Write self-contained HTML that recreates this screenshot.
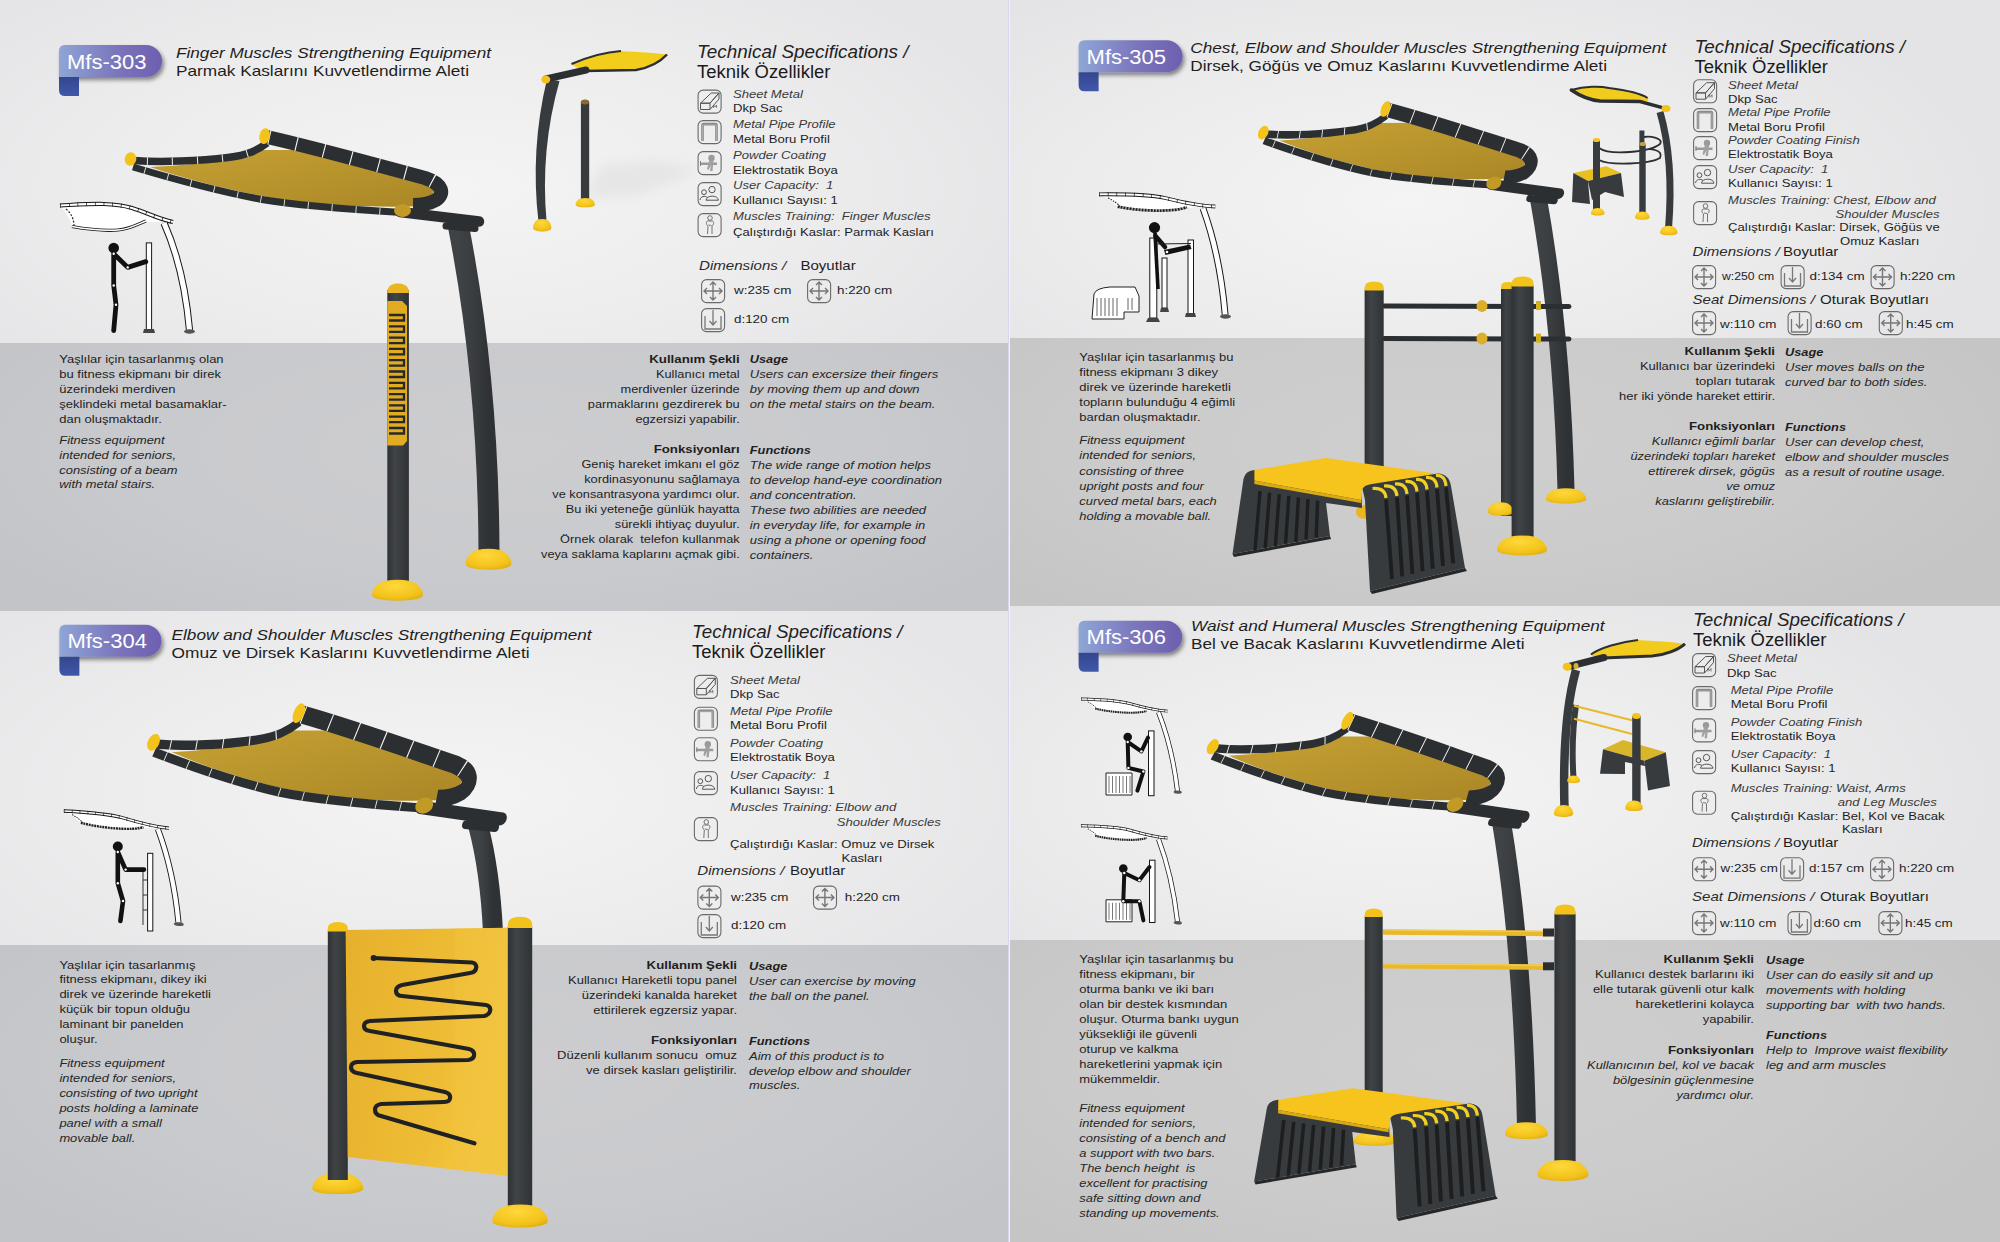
<!DOCTYPE html><html><head><meta charset="utf-8"><style>
html,body{margin:0;padding:0;width:2000px;height:1242px;overflow:hidden;background:#e9e9eb;}
.q{position:absolute;}
svg{position:absolute;left:0;top:0;font-family:"Liberation Sans",sans-serif;}
</style></head><body>

<div class="q" style="left:0;top:0;width:1008px;height:343px;background:radial-gradient(ellipse 60% 75% at 45% 55%,#f4f4f4 0%,#ededee 55%,#e5e5e7 100%);"></div>
<div class="q" style="left:0;top:343px;width:1008px;height:268px;background:radial-gradient(ellipse 60% 80% at 50% 40%,#cdcdd0 0%,#c9cacd 60%,#c3c4c7 100%);"></div>
<div class="q" style="left:1010px;top:0;width:990px;height:338px;background:radial-gradient(ellipse 60% 75% at 40% 60%,#f4f4f4 0%,#ececed 55%,#e4e4e6 100%);"></div>
<div class="q" style="left:1010px;top:338px;width:990px;height:268px;background:radial-gradient(ellipse 60% 80% at 45% 40%,#cfcfcf 0%,#cbcbcb 60%,#c5c5c5 100%);"></div>
<div class="q" style="left:0;top:611px;width:1008px;height:334px;background:radial-gradient(ellipse 60% 75% at 45% 55%,#f4f4f4 0%,#ededee 55%,#e6e6e8 100%);"></div>
<div class="q" style="left:0;top:945px;width:1008px;height:297px;background:radial-gradient(ellipse 60% 80% at 50% 40%,#cdcdd0 0%,#c9cacd 60%,#c3c4c7 100%);"></div>
<div class="q" style="left:1010px;top:606px;width:990px;height:334px;background:radial-gradient(ellipse 60% 75% at 40% 55%,#f4f4f4 0%,#ececed 55%,#e4e4e6 100%);"></div>
<div class="q" style="left:1010px;top:940px;width:990px;height:302px;background:radial-gradient(ellipse 60% 80% at 45% 40%,#cfcfcf 0%,#cbcbcb 60%,#c5c5c5 100%);"></div>
<div class="q" style="left:1008px;top:0;width:1px;height:1242px;background:#d6d6ec;"></div>
<div class="q" style="left:1009px;top:0;width:1px;height:1242px;background:#f2f2f2;"></div>
<svg width="2000" height="1242" viewBox="0 0 2000 1242">

<defs>
<linearGradient id="badgeG" x1="0" y1="0" x2="1" y2="0">
 <stop offset="0" stop-color="#8ea6d6"/><stop offset="0.55" stop-color="#7b76bc"/><stop offset="1" stop-color="#6e5fb0"/>
</linearGradient>
<linearGradient id="tabG" x1="0" y1="0" x2="0" y2="1">
 <stop offset="0" stop-color="#34468e"/><stop offset="1" stop-color="#4058aa"/>
</linearGradient>
<filter id="bsh" x="-20%" y="-30%" width="150%" height="180%">
 <feGaussianBlur in="SourceAlpha" stdDeviation="2.2"/><feOffset dx="2" dy="3"/>
 <feComponentTransfer><feFuncA type="linear" slope="0.45"/></feComponentTransfer>
 <feMerge><feMergeNode/><feMergeNode in="SourceGraphic"/></feMerge>
</filter>
<g id="icoFrame"><rect x="0.6" y="0.6" width="23" height="23" rx="5" fill="#efefef" fill-opacity="0.25" stroke="#6a6a6a" stroke-width="1.1"/></g>
<g id="icoSheet"><use href="#icoFrame"/><path d="M3,13.7 L13.7,3.5 L21.5,3.5 L12.5,13.7 Z M3,13.7 L12.5,13.7 L12.5,20 L3,20 Z M12.5,13.7 L21.5,3.5 L21.5,9.5 L12.5,20" fill="none" stroke="#555" stroke-width="1"/><path d="M16,18.5 L16,15.5 L17.5,17.5 L19,15.5 L19,18.5" fill="none" stroke="#555" stroke-width="0.7"/></g>
<g id="icoPipe"><use href="#icoFrame"/><path d="M5,21 L5,5 Q5,4 6,4 L18,4 Q19,4 19,5 L19,21" fill="none" stroke="#8a8a8a" stroke-width="2.6"/><path d="M5,21 L5,5 L19,5 L19,21" fill="none" stroke="#aaa" stroke-width="1"/></g>
<g id="icoPowder"><use href="#icoFrame"/><path d="M2.5,11.5 L19.5,11.5 L19.5,14 L2.5,14 Z" fill="#9a9a9a"/><circle cx="14" cy="7" r="3.2" fill="#9a9a9a"/><path d="M12,9 L16,9 L15,20 L12.5,20 L13.5,14 L11,19 L9.5,18 Z" fill="#a0a0a0"/><path d="M3,10 L3,15" stroke="#777" stroke-width="0.9"/></g>
<g id="icoUser"><use href="#icoFrame"/><circle cx="6.5" cy="10.2" r="2.4" fill="none" stroke="#555" stroke-width="1"/><circle cx="14.5" cy="7.6" r="3.2" fill="none" stroke="#555" stroke-width="1"/><path d="M2.5,18 C3,14.2 7.5,13.5 10,15.5 M8.5,18.2 C9,12.8 20.5,12.8 21,18.2 Z" fill="none" stroke="#555" stroke-width="1"/></g>
<g id="icoMuscle"><use href="#icoFrame"/><circle cx="12.5" cy="5" r="2.3" fill="none" stroke="#666" stroke-width="0.9"/><path d="M10,8 C8,9 9,12 10.5,13 L10,21 M15,8 C17,9 16,12 14.5,13 L14.5,21 M10,8 L15,8 M11,12 L14,12.5" fill="none" stroke="#666" stroke-width="0.9"/></g>
<g id="icoDimW"><use href="#icoFrame"/><path d="M3,12 L21,12 M12,3 L12,21 M6,9 L3,12 L6,15 M18,9 L21,12 L18,15 M9,6 L12,3 L15,6 M9,18 L12,21 L15,18" fill="none" stroke="#777" stroke-width="1.4"/></g>
<g id="icoDimD"><use href="#icoFrame"/><path d="M4,8 L4,21 L20,21 L20,8 M12,2 L12,17 M8.5,13 L12,17 L15.5,13" fill="none" stroke="#777" stroke-width="1.3"/></g>

<linearGradient id="fabG" x1="0" y1="0" x2="1" y2="1">
 <stop offset="0" stop-color="#c4a032"/><stop offset="0.6" stop-color="#b6922c"/><stop offset="1" stop-color="#aa8726"/>
</linearGradient>
<linearGradient id="poleG" x1="0" y1="0" x2="1" y2="0">
 <stop offset="0" stop-color="#3f4345"/><stop offset="0.5" stop-color="#3a3d3f"/><stop offset="1" stop-color="#2f3234"/>
</linearGradient>
<linearGradient id="postG" x1="0" y1="0" x2="1" y2="0">
 <stop offset="0" stop-color="#2f3234"/><stop offset="0.35" stop-color="#404446"/><stop offset="1" stop-color="#303335"/>
</linearGradient>
<linearGradient id="panelG" x1="0" y1="0" x2="1" y2="0.3">
 <stop offset="0" stop-color="#e6b02c"/><stop offset="0.7" stop-color="#efbd35"/><stop offset="1" stop-color="#f3c63f"/>
</linearGradient>
<radialGradient id="baseG" cx="0.45" cy="0.3" r="0.8">
 <stop offset="0" stop-color="#ffd83a"/><stop offset="0.7" stop-color="#f2c21a"/><stop offset="1" stop-color="#dba90f"/>
</radialGradient>
<filter id="blur4" x="-50%" y="-50%" width="200%" height="200%"><feGaussianBlur stdDeviation="6"/></filter>
<g id="canopy">
 <path d="M150,167 C190,165 232,161 262,150 L300,150 C350,161 400,175 436,187 L427,206 C380,208 330,205.5 300,202 C260,197 200,184 150,167 Z" fill="url(#fabG)"/>
 <path d="M133,167 C170,178 220,192 262,199.5 C300,206 360,210 402,212.5" fill="none" stroke="#2c2f31" stroke-width="7"/>
 <path d="M133,167 C170,178 220,192 262,199.5 C300,206 360,210 402,212.5" fill="none" stroke="#e8e8d8" stroke-width="7" stroke-dasharray="0.9 23" stroke-dashoffset="-12"/>
 <path d="M134,160.5 C160,162.5 200,161 228,157.5 C248,155 258,150 267,143" fill="none" stroke="#2c2f31" stroke-width="7.5"/>
 <path d="M134,160.5 C160,162.5 200,161 228,157.5 C248,155 258,150 267,143" fill="none" stroke="#f0f0f0" stroke-width="7.5" stroke-dasharray="1 24" stroke-dashoffset="-38"/>
 <path d="M267,137 C320,149 380,166 425,178 C443,184 445,194 436,200 C429,204 421,205 413,205" fill="none" stroke="#2c2f31" stroke-width="14"/>
 <path d="M267,137 C320,149 380,166 425,178 C443,184 445,194 436,200" fill="none" stroke="#f4f4f4" stroke-width="14" stroke-dasharray="1.1 27" stroke-dashoffset="-30"/>
 <path d="M400,212 L479,221.5" fill="none" stroke="#2c2f31" stroke-width="10.5" stroke-linecap="round"/>
 <path d="M446,226 L475,228.5" fill="none" stroke="#2c2f31" stroke-width="7" stroke-linecap="round"/>
 <ellipse cx="402.5" cy="210.5" rx="8.5" ry="6.5" fill="#c39a26"/>
 <ellipse cx="130.5" cy="159" rx="5.8" ry="6.8" fill="#f3c31c" transform="rotate(15 130.5 159)"/>
 <ellipse cx="264.4" cy="136" rx="5.2" ry="8" fill="#f3c31c" transform="rotate(12 264 137)"/>
</g>
<g id="bench">
<path d="M1254,470 L1361,489 L1362,508 L1326,503 L1330,536 L1232.5,554 L1243.5,479 Q1245,471 1254,470 Z" fill="#383b3d"/>
<path d="M1260.0,491.0 L1255.0,550.0" stroke="#1c1e1f" stroke-width="3.4"/>
<path d="M1269.6,492.6 L1265.2,547.9" stroke="#1c1e1f" stroke-width="3.4"/>
<path d="M1279.2,494.2 L1275.4,545.8" stroke="#1c1e1f" stroke-width="3.4"/>
<path d="M1288.8,495.8 L1285.6,543.7" stroke="#1c1e1f" stroke-width="3.4"/>
<path d="M1298.4,497.4 L1295.8,541.6" stroke="#1c1e1f" stroke-width="3.4"/>
<path d="M1308.0,499.0 L1306.0,539.5" stroke="#1c1e1f" stroke-width="3.4"/>
<path d="M1317.6,500.6 L1316.2,537.4" stroke="#1c1e1f" stroke-width="3.4"/>
<path d="M1232.5,554 L1330,536 L1331,539 L1234,557 Z" fill="#252728"/>
<path d="M1254.4,470 L1326,458 L1437.5,473.75 L1362.5,488.75 L1361,500 L1254.4,480.6 Z" fill="#f6c41d"/>
<path d="M1254.4,480.6 L1361,500 L1361,503 L1254.4,484 Z" fill="#d9a916"/>
<path d="M1362.5,489 Q1364,485 1372,484 L1438,473.5 Q1449,474 1451,486 L1465,568 L1370,591 L1365,500 Z" fill="#383b3d"/>
<path d="M1386.0,499.5 L1392.0,579.0" stroke="#1c1e1f" stroke-width="3.8"/>
<path d="M1372.5,488.5 Q1385.0,487.5 1386.0,498.0" fill="none" stroke="#f0d024" stroke-width="3.2"/>
<path d="M1397.0,497.5 L1402.2,576.4" stroke="#1c1e1f" stroke-width="3.8"/>
<path d="M1384.0,486.0 Q1396.0,485.0 1397.0,496.0" fill="none" stroke="#f0d024" stroke-width="3.2"/>
<path d="M1407.0,495.5 L1412.4,573.8" stroke="#1c1e1f" stroke-width="3.8"/>
<path d="M1395.0,484.0 Q1406.0,483.0 1407.0,494.0" fill="none" stroke="#f0d024" stroke-width="3.2"/>
<path d="M1417.0,493.0 L1422.6,571.2" stroke="#1c1e1f" stroke-width="3.8"/>
<path d="M1405.5,481.5 Q1416.0,480.5 1417.0,491.5" fill="none" stroke="#f0d024" stroke-width="3.2"/>
<path d="M1427.0,491.0 L1432.8,568.6" stroke="#1c1e1f" stroke-width="3.8"/>
<path d="M1416.0,479.5 Q1426.0,478.5 1427.0,489.5" fill="none" stroke="#f0d024" stroke-width="3.2"/>
<path d="M1437.0,489.0 L1443.0,566.0" stroke="#1c1e1f" stroke-width="3.8"/>
<path d="M1426.0,477.5 Q1436.0,476.5 1437.0,487.5" fill="none" stroke="#f0d024" stroke-width="3.2"/>
<path d="M1446.0,487.5 L1453.2,563.4" stroke="#1c1e1f" stroke-width="3.8"/>
<path d="M1436.0,475.5 Q1445.0,474.5 1446.0,486.0" fill="none" stroke="#f0d024" stroke-width="3.2"/>
<path d="M1370,591 L1465,568 L1467,571 L1372,594 Z" fill="#252728"/>
</g>

<g id="lineCan">
 <path d="M61,207 C90,205 112,202 132,208 C148,213 158,219 172,222 L146,222 C132,227 118,231 100,229.5 C86,228.5 76,227.5 72,226 C70,219 66,212 61,207 Z" fill="#ffffff"/>
 <path d="M60,205.5 C90,204 112,202 132,208 C148,213 158,219 173,222" fill="none" stroke="#161616" stroke-width="4.2"/>
 <path d="M60,205.5 C90,204 112,202 132,208 C148,213 158,219 173,222" fill="none" stroke="#ffffff" stroke-width="2.2"/>
 <path d="M60,205.5 C90,204 112,202 132,208 C148,213 158,219 173,222" fill="none" stroke="#161616" stroke-width="4" stroke-dasharray="0.7 8"/>
 <path d="M72,226.5 C86,229 104,231 118,230 C130,229 138,224 146,221" fill="none" stroke="#161616" stroke-width="3.2"/>
 <path d="M72,226.5 C86,229 104,231 118,230 C130,229 138,224 146,221" fill="none" stroke="#ffffff" stroke-width="1.4"/>
 <path d="M66,209 C72,214 74,220 74,226" fill="none" stroke="#333" stroke-width="1.3" stroke-dasharray="2 1.5"/>
 <path d="M164,223 Q184,268 189.5,330" fill="none" stroke="#161616" stroke-width="7.2"/>
 <path d="M164,223 Q184,268 189.5,330" fill="none" stroke="#ffffff" stroke-width="5.2"/>
 <ellipse cx="189.5" cy="331.5" rx="5.5" ry="2.2" fill="#555"/>
</g>

<g id="lineCan2">
 <path d="M1100,195 C1130,194.5 1150,195 1165,198 C1185,202 1200,206 1215,206.5 L1186,207.5 C1170,211.5 1150,211.5 1130,209.5 C1122,208.5 1118,207.5 1117,206.5 C1112,201 1106,197 1100,195 Z" fill="#ffffff"/>
 <path d="M1099,194.3 C1125,194 1150,194.5 1165,198 C1185,203 1200,206 1215.3,206.5" fill="none" stroke="#161616" stroke-width="3.8"/>
 <path d="M1099,194.3 C1125,194 1150,194.5 1165,198 C1185,203 1200,206 1215.3,206.5" fill="none" stroke="#ffffff" stroke-width="1.9"/>
 <path d="M1099,194.3 C1125,194 1150,194.5 1165,198 C1185,203 1200,206 1215.3,206.5" fill="none" stroke="#161616" stroke-width="3.8" stroke-dasharray="0.7 8"/>
 <path d="M1117.7,206.6 C1135,210.5 1160,211.5 1175,209.8 C1180,209.2 1184,208.3 1187,207.2" fill="none" stroke="#222" stroke-width="2.8" stroke-dasharray="2.2 0.8"/>
 <path d="M1108,197.8 C1114,201 1118,204 1120,206.6" fill="none" stroke="#333" stroke-width="1.3" stroke-dasharray="1.5 1.2"/>
 <path d="M1203,208.4 Q1220,255 1225.2,315" fill="none" stroke="#161616" stroke-width="6.8"/>
 <path d="M1203,208.4 Q1220,255 1225.2,315" fill="none" stroke="#ffffff" stroke-width="4.8"/>
 <ellipse cx="1225.5" cy="316.5" rx="5.5" ry="2.2" fill="#555"/>
</g>
</defs>
<g filter="url(#bsh)"><path d="M59,77 L59,51 Q59,45 65,45 L146.0,45 A16.0,16.0 0 0 1 146.0,77 Z" fill="url(#badgeG)"/></g><path d="M59,77 L79,77 L79,96 L65,96 Q59,96 59,90 Z" fill="url(#tabG)"/><text x="67.0" y="68.5" font-size="20.5" fill="#ffffff" textLength="79.5" lengthAdjust="spacingAndGlyphs">Mfs-303</text>
<text x="176.0" y="57.5" font-size="15.5" font-style="italic" fill="#1e1e1e" textLength="315.0" lengthAdjust="spacingAndGlyphs">Finger Muscles Strengthening Equipment</text>
<text x="176.0" y="75.8" font-size="15" fill="#1e1e1e" textLength="293.0" lengthAdjust="spacingAndGlyphs">Parmak Kaslarını Kuvvetlendirme Aleti</text>
<text x="697.0" y="57.7" font-size="17.6" font-style="italic" fill="#222" textLength="211.5" lengthAdjust="spacingAndGlyphs">Technical Specifications /</text>
<text x="697.0" y="77.7" font-size="17.6" fill="#1a1a1a" textLength="133.5" lengthAdjust="spacingAndGlyphs">Teknik Özellikler</text>
<use href="#icoSheet" x="697.5" y="89.5"/>
<text x="733.0" y="98.2" font-size="11.0" font-style="italic" fill="#3a3a3a" textLength="69.9" lengthAdjust="spacingAndGlyphs">Sheet Metal</text>
<text x="733.0" y="112.4" font-size="11.0" fill="#1e1e1e" textLength="49.5" lengthAdjust="spacingAndGlyphs">Dkp Sac</text>
<use href="#icoPipe" x="697.5" y="120"/>
<text x="733.0" y="128.3" font-size="11.0" font-style="italic" fill="#3a3a3a" textLength="102.6" lengthAdjust="spacingAndGlyphs">Metal Pipe Profile</text>
<text x="733.0" y="142.5" font-size="11.0" fill="#1e1e1e" textLength="96.8" lengthAdjust="spacingAndGlyphs">Metal Boru Profil</text>
<use href="#icoPowder" x="697.5" y="151"/>
<text x="733.0" y="159.0" font-size="11.0" font-style="italic" fill="#3a3a3a" textLength="93.1" lengthAdjust="spacingAndGlyphs">Powder Coating</text>
<text x="733.0" y="173.5" font-size="11.0" fill="#1e1e1e" textLength="104.8" lengthAdjust="spacingAndGlyphs">Elektrostatik Boya</text>
<use href="#icoUser" x="697.5" y="182"/>
<text x="733.0" y="189.4" font-size="11.0" font-style="italic" fill="#3a3a3a" textLength="100.4" lengthAdjust="spacingAndGlyphs" style="white-space:pre">User Capacity:  1</text>
<text x="733.0" y="203.6" font-size="11.0" fill="#1e1e1e" textLength="104.8" lengthAdjust="spacingAndGlyphs">Kullanıcı Sayısı: 1</text>
<use href="#icoMuscle" x="697.5" y="213"/>
<text x="733.0" y="220.4" font-size="11.0" font-style="italic" fill="#3a3a3a" textLength="197.6" lengthAdjust="spacingAndGlyphs" style="white-space:pre">Muscles Training:  Finger Muscles</text>
<text x="733.0" y="235.5" font-size="11.0" fill="#1e1e1e" textLength="200.8" lengthAdjust="spacingAndGlyphs">Çalıştırdığı Kaslar: Parmak Kasları</text>
<text x="699.0" y="269.7" font-size="13" font-style="italic" fill="#2a2a2a" textLength="87.2" lengthAdjust="spacingAndGlyphs">Dimensions /</text>
<text x="800.4" y="269.7" font-size="13" fill="#1e1e1e" textLength="55.3" lengthAdjust="spacingAndGlyphs">Boyutlar</text>
<use href="#icoDimW" x="701" y="279"/><text x="734.0" y="294.0" font-size="11.5" fill="#1e1e1e" textLength="57.3" lengthAdjust="spacingAndGlyphs">w:235 cm</text>
<use href="#icoDimW" x="807" y="279"/><text x="837.0" y="294.0" font-size="11.5" fill="#1e1e1e" textLength="55.1" lengthAdjust="spacingAndGlyphs">h:220 cm</text>
<use href="#icoDimD" x="701" y="308"/><text x="734.0" y="322.6" font-size="11.5" fill="#1e1e1e" textLength="55.1" lengthAdjust="spacingAndGlyphs">d:120 cm</text>
<text x="59.3" y="363.0" font-size="11.7" fill="#1e1e1e" textLength="164.3" lengthAdjust="spacingAndGlyphs">Yaşlılar için tasarlanmış olan</text>
<text x="59.3" y="377.9" font-size="11.7" fill="#1e1e1e" textLength="161.7" lengthAdjust="spacingAndGlyphs">bu fitness ekipmanı bir direk</text>
<text x="59.3" y="392.8" font-size="11.7" fill="#1e1e1e" textLength="116.2" lengthAdjust="spacingAndGlyphs">üzerindeki merdiven</text>
<text x="59.3" y="407.7" font-size="11.7" fill="#1e1e1e" textLength="167.4" lengthAdjust="spacingAndGlyphs">şeklindeki metal basamaklar-</text>
<text x="59.3" y="422.6" font-size="11.7" fill="#1e1e1e" textLength="102.5" lengthAdjust="spacingAndGlyphs">dan oluşmaktadır.</text>
<text x="59.3" y="443.7" font-size="11.7" font-style="italic" fill="#262626" textLength="105.3" lengthAdjust="spacingAndGlyphs">Fitness equipment</text>
<text x="59.3" y="458.6" font-size="11.7" font-style="italic" fill="#262626" textLength="116.7" lengthAdjust="spacingAndGlyphs">intended for seniors,</text>
<text x="59.3" y="473.5" font-size="11.7" font-style="italic" fill="#262626" textLength="118.2" lengthAdjust="spacingAndGlyphs">consisting of a beam</text>
<text x="59.3" y="488.4" font-size="11.7" font-style="italic" fill="#262626" textLength="95.9" lengthAdjust="spacingAndGlyphs">with metal stairs.</text>
<text x="739.7" y="362.6" font-size="11.7" font-weight="bold" text-anchor="end" fill="#1e1e1e" textLength="90.4" lengthAdjust="spacingAndGlyphs">Kullanım Şekli</text>
<text x="739.7" y="377.6" font-size="11.7" text-anchor="end" fill="#1e1e1e" textLength="83.7" lengthAdjust="spacingAndGlyphs">Kullanıcı metal</text>
<text x="739.7" y="392.7" font-size="11.7" text-anchor="end" fill="#1e1e1e" textLength="119.2" lengthAdjust="spacingAndGlyphs">merdivenler üzerinde</text>
<text x="739.7" y="407.7" font-size="11.7" text-anchor="end" fill="#1e1e1e" textLength="151.9" lengthAdjust="spacingAndGlyphs">parmaklarını gezdirerek bu</text>
<text x="739.7" y="422.8" font-size="11.7" text-anchor="end" fill="#1e1e1e" textLength="104.3" lengthAdjust="spacingAndGlyphs">egzersizi yapabilir.</text>
<text x="739.7" y="452.9" font-size="11.7" font-weight="bold" text-anchor="end" fill="#1e1e1e" textLength="86.0" lengthAdjust="spacingAndGlyphs">Fonksiyonları</text>
<text x="739.7" y="468.0" font-size="11.7" text-anchor="end" fill="#1e1e1e" textLength="158.3" lengthAdjust="spacingAndGlyphs">Geniş hareket imkanı el göz</text>
<text x="739.7" y="483.1" font-size="11.7" text-anchor="end" fill="#1e1e1e" textLength="155.5" lengthAdjust="spacingAndGlyphs">kordinasyonunu sağlamaya</text>
<text x="739.7" y="498.1" font-size="11.7" text-anchor="end" fill="#1e1e1e" textLength="187.4" lengthAdjust="spacingAndGlyphs">ve konsantrasyona yardımcı olur.</text>
<text x="739.7" y="513.2" font-size="11.7" text-anchor="end" fill="#1e1e1e" textLength="173.9" lengthAdjust="spacingAndGlyphs">Bu iki yeteneğe günlük hayatta</text>
<text x="739.7" y="528.3" font-size="11.7" text-anchor="end" fill="#1e1e1e" textLength="124.9" lengthAdjust="spacingAndGlyphs">sürekli ihtiyaç duyulur.</text>
<text x="739.7" y="543.4" font-size="11.7" text-anchor="end" fill="#1e1e1e" textLength="179.6" lengthAdjust="spacingAndGlyphs" style="white-space:pre">Örnek olarak  telefon kullanmak</text>
<text x="739.7" y="558.4" font-size="11.7" text-anchor="end" fill="#1e1e1e" textLength="198.7" lengthAdjust="spacingAndGlyphs">veya saklama kaplarını açmak gibi.</text>
<text x="749.8" y="363.0" font-size="11.7" font-style="italic" font-weight="bold" fill="#1e1e1e" textLength="38.3" lengthAdjust="spacingAndGlyphs">Usage</text>
<text x="749.8" y="378.0" font-size="11.7" font-style="italic" fill="#262626" textLength="188.5" lengthAdjust="spacingAndGlyphs">Users can excersize their fingers</text>
<text x="749.8" y="393.1" font-size="11.7" font-style="italic" fill="#262626" textLength="169.8" lengthAdjust="spacingAndGlyphs">by moving them up and down</text>
<text x="749.8" y="408.1" font-size="11.7" font-style="italic" fill="#262626" textLength="185.6" lengthAdjust="spacingAndGlyphs">on the metal stairs on the beam.</text>
<text x="749.8" y="453.5" font-size="11.7" font-style="italic" font-weight="bold" fill="#1e1e1e" textLength="61.0" lengthAdjust="spacingAndGlyphs">Functions</text>
<text x="749.8" y="468.5" font-size="11.7" font-style="italic" fill="#262626" textLength="181.3" lengthAdjust="spacingAndGlyphs">The wide range of motion helps</text>
<text x="749.8" y="483.6" font-size="11.7" font-style="italic" fill="#262626" textLength="192.2" lengthAdjust="spacingAndGlyphs">to develop hand-eye coordination</text>
<text x="749.8" y="498.6" font-size="11.7" font-style="italic" fill="#262626" textLength="106.9" lengthAdjust="spacingAndGlyphs">and concentration.</text>
<text x="749.8" y="513.7" font-size="11.7" font-style="italic" fill="#262626" textLength="176.3" lengthAdjust="spacingAndGlyphs">These two abilities are needed</text>
<text x="749.8" y="528.8" font-size="11.7" font-style="italic" fill="#262626" textLength="175.5" lengthAdjust="spacingAndGlyphs">in everyday life, for example in</text>
<text x="749.8" y="543.9" font-size="11.7" font-style="italic" fill="#262626" textLength="175.6" lengthAdjust="spacingAndGlyphs">using a phone or opening food</text>
<text x="749.8" y="558.9" font-size="11.7" font-style="italic" fill="#262626" textLength="63.6" lengthAdjust="spacingAndGlyphs">containers.</text>
<g filter="url(#bsh)"><path d="M1078.6,72.2 L1078.6,46.2 Q1078.6,40.2 1084.6,40.2 L1166.6,40.2 A16.0,16.0 0 0 1 1166.6,72.2 Z" fill="url(#badgeG)"/></g><path d="M1078.6,72.2 L1098.6,72.2 L1098.6,91.2 L1084.6,91.2 Q1078.6,91.2 1078.6,85.2 Z" fill="url(#tabG)"/><text x="1086.6" y="63.7" font-size="20.5" fill="#ffffff" textLength="79.5" lengthAdjust="spacingAndGlyphs">Mfs-305</text>
<text x="1190.2" y="53.2" font-size="15.5" font-style="italic" fill="#1e1e1e" textLength="476.0" lengthAdjust="spacingAndGlyphs">Chest, Elbow and Shoulder Muscles Strengthening Equipment</text>
<text x="1190.2" y="71.0" font-size="15" fill="#1e1e1e" textLength="416.8" lengthAdjust="spacingAndGlyphs">Dirsek, Göğüs ve Omuz Kaslarını Kuvvetlendirme Aleti</text>
<text x="1694.5" y="52.5" font-size="17.6" font-style="italic" fill="#222" textLength="210.5" lengthAdjust="spacingAndGlyphs">Technical Specifications /</text>
<text x="1694.5" y="73.0" font-size="17.6" fill="#1a1a1a" textLength="133.5" lengthAdjust="spacingAndGlyphs">Teknik Özellikler</text>
<use href="#icoSheet" x="1693" y="79.2"/>
<text x="1728.0" y="88.7" font-size="11.0" font-style="italic" fill="#3a3a3a" textLength="69.9" lengthAdjust="spacingAndGlyphs">Sheet Metal</text>
<text x="1728.0" y="102.5" font-size="11.0" fill="#1e1e1e" textLength="49.5" lengthAdjust="spacingAndGlyphs">Dkp Sac</text>
<use href="#icoPipe" x="1693" y="108"/>
<text x="1728.0" y="116.0" font-size="11.0" font-style="italic" fill="#3a3a3a" textLength="102.6" lengthAdjust="spacingAndGlyphs">Metal Pipe Profile</text>
<text x="1728.0" y="130.5" font-size="11.0" fill="#1e1e1e" textLength="96.8" lengthAdjust="spacingAndGlyphs">Metal Boru Profil</text>
<use href="#icoPowder" x="1693" y="136"/>
<text x="1728.0" y="143.7" font-size="11.0" font-style="italic" fill="#3a3a3a" textLength="131.7" lengthAdjust="spacingAndGlyphs">Powder Coating Finish</text>
<text x="1728.0" y="158.0" font-size="11.0" fill="#1e1e1e" textLength="104.8" lengthAdjust="spacingAndGlyphs">Elektrostatik Boya</text>
<use href="#icoUser" x="1693" y="165"/>
<text x="1728.0" y="173.0" font-size="11.0" font-style="italic" fill="#3a3a3a" textLength="100.4" lengthAdjust="spacingAndGlyphs" style="white-space:pre">User Capacity:  1</text>
<text x="1728.0" y="186.7" font-size="11.0" fill="#1e1e1e" textLength="104.8" lengthAdjust="spacingAndGlyphs">Kullanıcı Sayısı: 1</text>
<use href="#icoMuscle" x="1693" y="201"/>
<text x="1728.0" y="203.7" font-size="11.0" font-style="italic" fill="#3a3a3a" textLength="207.8" lengthAdjust="spacingAndGlyphs">Muscles Training: Chest, Elbow and</text>
<text x="1835.5" y="217.5" font-size="11.0" font-style="italic" fill="#3a3a3a" textLength="104.0" lengthAdjust="spacingAndGlyphs">Shoulder Muscles</text>
<text x="1728.0" y="230.5" font-size="11.0" fill="#1e1e1e" textLength="211.7" lengthAdjust="spacingAndGlyphs">Çalıştırdığı Kaslar: Dirsek, Göğüs ve</text>
<text x="1840.0" y="244.5" font-size="11.0" fill="#1e1e1e" textLength="79.3" lengthAdjust="spacingAndGlyphs">Omuz Kasları</text>
<text x="1692.5" y="255.5" font-size="13" font-style="italic" fill="#2a2a2a" textLength="87.2" lengthAdjust="spacingAndGlyphs">Dimensions /</text>
<text x="1783.0" y="255.5" font-size="13" fill="#1e1e1e" textLength="55.3" lengthAdjust="spacingAndGlyphs">Boyutlar</text>
<use href="#icoDimW" x="1692" y="265"/><text x="1722.0" y="280.0" font-size="10.5" fill="#1e1e1e" textLength="52.3" lengthAdjust="spacingAndGlyphs">w:250 cm</text>
<use href="#icoDimD" x="1780.5" y="265"/><text x="1809.5" y="280.0" font-size="11.5" fill="#1e1e1e" textLength="55.1" lengthAdjust="spacingAndGlyphs">d:134 cm</text>
<use href="#icoDimW" x="1870.5" y="265"/><text x="1900.0" y="280.0" font-size="11.5" fill="#1e1e1e" textLength="55.1" lengthAdjust="spacingAndGlyphs">h:220 cm</text>
<text x="1692.5" y="303.7" font-size="13" font-style="italic" fill="#2a2a2a" textLength="122.4" lengthAdjust="spacingAndGlyphs">Seat Dimensions /</text>
<text x="1820.0" y="303.7" font-size="13" fill="#1e1e1e" textLength="109.0" lengthAdjust="spacingAndGlyphs">Oturak Boyutları</text>
<use href="#icoDimW" x="1692" y="311"/><text x="1720.0" y="328.0" font-size="11.5" fill="#1e1e1e" textLength="56.3" lengthAdjust="spacingAndGlyphs">w:110 cm</text>
<use href="#icoDimD" x="1787.5" y="311"/><text x="1815.0" y="328.0" font-size="11.5" fill="#1e1e1e" textLength="47.7" lengthAdjust="spacingAndGlyphs">d:60 cm</text>
<use href="#icoDimW" x="1878.7" y="311"/><text x="1906.0" y="328.0" font-size="11.5" fill="#1e1e1e" textLength="47.7" lengthAdjust="spacingAndGlyphs">h:45 cm</text>
<text x="1079.3" y="361.4" font-size="11.7" fill="#1e1e1e" textLength="154.2" lengthAdjust="spacingAndGlyphs">Yaşlılar için tasarlanmış bu</text>
<text x="1079.3" y="376.4" font-size="11.7" fill="#1e1e1e" textLength="138.6" lengthAdjust="spacingAndGlyphs">fitness ekipmanı 3 dikey</text>
<text x="1079.3" y="391.4" font-size="11.7" fill="#1e1e1e" textLength="151.6" lengthAdjust="spacingAndGlyphs">direk ve üzerinde hareketli</text>
<text x="1079.3" y="406.4" font-size="11.7" fill="#1e1e1e" textLength="155.9" lengthAdjust="spacingAndGlyphs">topların bulunduğu 4 eğimli</text>
<text x="1079.3" y="421.4" font-size="11.7" fill="#1e1e1e" textLength="121.3" lengthAdjust="spacingAndGlyphs">bardan oluşmaktadır.</text>
<text x="1079.3" y="444.3" font-size="11.7" font-style="italic" fill="#262626" textLength="105.3" lengthAdjust="spacingAndGlyphs">Fitness equipment</text>
<text x="1079.3" y="459.4" font-size="11.7" font-style="italic" fill="#262626" textLength="116.7" lengthAdjust="spacingAndGlyphs">intended for seniors,</text>
<text x="1079.3" y="474.6" font-size="11.7" font-style="italic" fill="#262626" textLength="104.5" lengthAdjust="spacingAndGlyphs">consisting of three</text>
<text x="1079.3" y="489.8" font-size="11.7" font-style="italic" fill="#262626" textLength="124.6" lengthAdjust="spacingAndGlyphs">upright posts and four</text>
<text x="1079.3" y="504.9" font-size="11.7" font-style="italic" fill="#262626" textLength="137.5" lengthAdjust="spacingAndGlyphs">curved metal bars, each</text>
<text x="1079.3" y="520.0" font-size="11.7" font-style="italic" fill="#262626" textLength="131.8" lengthAdjust="spacingAndGlyphs">holding a movable ball.</text>
<text x="1775.0" y="355.0" font-size="11.7" font-weight="bold" text-anchor="end" fill="#1e1e1e" textLength="90.4" lengthAdjust="spacingAndGlyphs">Kullanım Şekli</text>
<text x="1775.0" y="370.0" font-size="11.7" text-anchor="end" fill="#1e1e1e" textLength="135.1" lengthAdjust="spacingAndGlyphs">Kullanıcı bar üzerindeki</text>
<text x="1775.0" y="385.0" font-size="11.7" text-anchor="end" fill="#1e1e1e" textLength="79.5" lengthAdjust="spacingAndGlyphs">topları tutarak</text>
<text x="1775.0" y="400.0" font-size="11.7" text-anchor="end" fill="#1e1e1e" textLength="156.0" lengthAdjust="spacingAndGlyphs">her iki yönde hareket ettirir.</text>
<text x="1775.0" y="430.0" font-size="11.7" font-weight="bold" text-anchor="end" fill="#1e1e1e" textLength="86.0" lengthAdjust="spacingAndGlyphs">Fonksiyonları</text>
<text x="1775.0" y="445.0" font-size="11.7" font-style="italic" text-anchor="end" fill="#262626" textLength="123.2" lengthAdjust="spacingAndGlyphs">Kullanıcı eğimli barlar</text>
<text x="1775.0" y="460.0" font-size="11.7" font-style="italic" text-anchor="end" fill="#262626" textLength="144.6" lengthAdjust="spacingAndGlyphs">üzerindeki topları hareket</text>
<text x="1775.0" y="475.0" font-size="11.7" font-style="italic" text-anchor="end" fill="#262626" textLength="126.7" lengthAdjust="spacingAndGlyphs">ettirerek dirsek, gögüs</text>
<text x="1775.0" y="490.0" font-size="11.7" font-style="italic" text-anchor="end" fill="#262626" textLength="48.7" lengthAdjust="spacingAndGlyphs">ve omuz</text>
<text x="1775.0" y="505.0" font-size="11.7" font-style="italic" text-anchor="end" fill="#262626" textLength="119.8" lengthAdjust="spacingAndGlyphs">kaslarını geliştirebilir.</text>
<text x="1785.0" y="355.5" font-size="11.7" font-style="italic" font-weight="bold" fill="#1e1e1e" textLength="38.3" lengthAdjust="spacingAndGlyphs">Usage</text>
<text x="1785.0" y="370.5" font-size="11.7" font-style="italic" fill="#262626" textLength="139.4" lengthAdjust="spacingAndGlyphs">User moves balls on the</text>
<text x="1785.0" y="385.5" font-size="11.7" font-style="italic" fill="#262626" textLength="142.3" lengthAdjust="spacingAndGlyphs">curved bar to both sides.</text>
<text x="1785.0" y="430.5" font-size="11.7" font-style="italic" font-weight="bold" fill="#1e1e1e" textLength="61.0" lengthAdjust="spacingAndGlyphs">Functions</text>
<text x="1785.0" y="445.5" font-size="11.7" font-style="italic" fill="#262626" textLength="139.4" lengthAdjust="spacingAndGlyphs">User can develop chest,</text>
<text x="1785.0" y="460.5" font-size="11.7" font-style="italic" fill="#262626" textLength="164.0" lengthAdjust="spacingAndGlyphs">elbow and shoulder muscles</text>
<text x="1785.0" y="475.5" font-size="11.7" font-style="italic" fill="#262626" textLength="160.4" lengthAdjust="spacingAndGlyphs">as a result of routine usage.</text>
<g filter="url(#bsh)"><path d="M59.4,656.8 L59.4,630.8 Q59.4,624.8 65.4,624.8 L145.4,624.8 A16.0,16.0 0 0 1 145.4,656.8 Z" fill="url(#badgeG)"/></g><path d="M59.4,656.8 L79.4,656.8 L79.4,675.8 L65.4,675.8 Q59.4,675.8 59.4,669.8 Z" fill="url(#tabG)"/><text x="67.4" y="648.3" font-size="20.5" fill="#ffffff" textLength="79.5" lengthAdjust="spacingAndGlyphs">Mfs-304</text>
<text x="171.6" y="639.8" font-size="15.5" font-style="italic" fill="#1e1e1e" textLength="420.0" lengthAdjust="spacingAndGlyphs">Elbow and Shoulder Muscles Strengthening Equipment</text>
<text x="171.6" y="657.9" font-size="15" fill="#1e1e1e" textLength="358.0" lengthAdjust="spacingAndGlyphs">Omuz ve Dirsek Kaslarını Kuvvetlendirme Aleti</text>
<text x="692.0" y="638.4" font-size="17.6" font-style="italic" fill="#222" textLength="210.5" lengthAdjust="spacingAndGlyphs">Technical Specifications /</text>
<text x="692.0" y="658.0" font-size="17.6" fill="#1a1a1a" textLength="133.5" lengthAdjust="spacingAndGlyphs">Teknik Özellikler</text>
<use href="#icoSheet" x="693.8" y="674.8"/>
<text x="730.0" y="683.6" font-size="11.0" font-style="italic" fill="#3a3a3a" textLength="69.9" lengthAdjust="spacingAndGlyphs">Sheet Metal</text>
<text x="730.0" y="697.9" font-size="11.0" fill="#1e1e1e" textLength="49.5" lengthAdjust="spacingAndGlyphs">Dkp Sac</text>
<use href="#icoPipe" x="693.8" y="706.7"/>
<text x="730.0" y="714.7" font-size="11.0" font-style="italic" fill="#3a3a3a" textLength="102.6" lengthAdjust="spacingAndGlyphs">Metal Pipe Profile</text>
<text x="730.0" y="729.3" font-size="11.0" fill="#1e1e1e" textLength="96.8" lengthAdjust="spacingAndGlyphs">Metal Boru Profil</text>
<use href="#icoPowder" x="693.8" y="737.2"/>
<text x="730.0" y="747.3" font-size="11.0" font-style="italic" fill="#3a3a3a" textLength="93.1" lengthAdjust="spacingAndGlyphs">Powder Coating</text>
<text x="730.0" y="761.2" font-size="11.0" fill="#1e1e1e" textLength="104.8" lengthAdjust="spacingAndGlyphs">Elektrostatik Boya</text>
<use href="#icoUser" x="693.8" y="771"/>
<text x="730.0" y="779.2" font-size="11.0" font-style="italic" fill="#3a3a3a" textLength="100.4" lengthAdjust="spacingAndGlyphs" style="white-space:pre">User Capacity:  1</text>
<text x="730.0" y="793.6" font-size="11.0" fill="#1e1e1e" textLength="104.8" lengthAdjust="spacingAndGlyphs">Kullanıcı Sayısı: 1</text>
<use href="#icoMuscle" x="693.8" y="817"/>
<text x="730.0" y="811.0" font-size="11.0" font-style="italic" fill="#3a3a3a" textLength="166.4" lengthAdjust="spacingAndGlyphs">Muscles Training: Elbow and</text>
<text x="836.8" y="825.5" font-size="11.0" font-style="italic" fill="#3a3a3a" textLength="104.0" lengthAdjust="spacingAndGlyphs">Shoulder Muscles</text>
<text x="730.0" y="847.5" font-size="11.0" fill="#1e1e1e" textLength="204.4" lengthAdjust="spacingAndGlyphs">Çalıştırdığı Kaslar: Omuz ve Dirsek</text>
<text x="841.6" y="861.6" font-size="11.0" fill="#1e1e1e" textLength="40.7" lengthAdjust="spacingAndGlyphs">Kasları</text>
<text x="697.3" y="875.4" font-size="13" font-style="italic" fill="#2a2a2a" textLength="87.2" lengthAdjust="spacingAndGlyphs">Dimensions /</text>
<text x="790.0" y="875.4" font-size="13" fill="#1e1e1e" textLength="55.3" lengthAdjust="spacingAndGlyphs">Boyutlar</text>
<use href="#icoDimW" x="697.3" y="885.5"/><text x="731.0" y="900.7" font-size="11.5" fill="#1e1e1e" textLength="57.3" lengthAdjust="spacingAndGlyphs">w:235 cm</text>
<use href="#icoDimW" x="812.9" y="885.5"/><text x="844.8" y="900.7" font-size="11.5" fill="#1e1e1e" textLength="55.1" lengthAdjust="spacingAndGlyphs">h:220 cm</text>
<use href="#icoDimD" x="697.3" y="914"/><text x="731.0" y="929.0" font-size="11.5" fill="#1e1e1e" textLength="55.1" lengthAdjust="spacingAndGlyphs">d:120 cm</text>
<text x="59.4" y="968.5" font-size="11.7" fill="#1e1e1e" textLength="136.1" lengthAdjust="spacingAndGlyphs">Yaşlılar için tasarlanmış</text>
<text x="59.4" y="983.4" font-size="11.7" fill="#1e1e1e" textLength="147.2" lengthAdjust="spacingAndGlyphs">fitness ekipmanı, dikey iki</text>
<text x="59.4" y="998.3" font-size="11.7" fill="#1e1e1e" textLength="151.6" lengthAdjust="spacingAndGlyphs">direk ve üzerinde hareketli</text>
<text x="59.4" y="1013.2" font-size="11.7" fill="#1e1e1e" textLength="130.7" lengthAdjust="spacingAndGlyphs">küçük bir topun olduğu</text>
<text x="59.4" y="1028.1" font-size="11.7" fill="#1e1e1e" textLength="124.2" lengthAdjust="spacingAndGlyphs">laminant bir panelden</text>
<text x="59.4" y="1043.0" font-size="11.7" fill="#1e1e1e" textLength="38.3" lengthAdjust="spacingAndGlyphs">oluşur.</text>
<text x="59.4" y="1067.4" font-size="11.7" font-style="italic" fill="#262626" textLength="105.3" lengthAdjust="spacingAndGlyphs">Fitness equipment</text>
<text x="59.4" y="1082.4" font-size="11.7" font-style="italic" fill="#262626" textLength="116.7" lengthAdjust="spacingAndGlyphs">intended for seniors,</text>
<text x="59.4" y="1097.4" font-size="11.7" font-style="italic" fill="#262626" textLength="138.2" lengthAdjust="spacingAndGlyphs">consisting of two upright</text>
<text x="59.4" y="1112.4" font-size="11.7" font-style="italic" fill="#262626" textLength="138.9" lengthAdjust="spacingAndGlyphs">posts holding a laminate</text>
<text x="59.4" y="1127.4" font-size="11.7" font-style="italic" fill="#262626" textLength="102.4" lengthAdjust="spacingAndGlyphs">panel with a small</text>
<text x="59.4" y="1142.4" font-size="11.7" font-style="italic" fill="#262626" textLength="75.9" lengthAdjust="spacingAndGlyphs">movable ball.</text>
<text x="737.0" y="968.6" font-size="11.7" font-weight="bold" text-anchor="end" fill="#1e1e1e" textLength="90.4" lengthAdjust="spacingAndGlyphs">Kullanım Şekli</text>
<text x="737.0" y="984.0" font-size="11.7" text-anchor="end" fill="#1e1e1e" textLength="169.0" lengthAdjust="spacingAndGlyphs">Kullanıcı Hareketli topu panel</text>
<text x="737.0" y="999.0" font-size="11.7" text-anchor="end" fill="#1e1e1e" textLength="155.3" lengthAdjust="spacingAndGlyphs">üzerindeki kanalda hareket</text>
<text x="737.0" y="1014.0" font-size="11.7" text-anchor="end" fill="#1e1e1e" textLength="143.7" lengthAdjust="spacingAndGlyphs">ettirilerek egzersiz yapar.</text>
<text x="737.0" y="1044.0" font-size="11.7" font-weight="bold" text-anchor="end" fill="#1e1e1e" textLength="86.0" lengthAdjust="spacingAndGlyphs">Fonksiyonları</text>
<text x="737.0" y="1059.0" font-size="11.7" text-anchor="end" fill="#1e1e1e" textLength="179.9" lengthAdjust="spacingAndGlyphs" style="white-space:pre">Düzenli kullanım sonucu  omuz</text>
<text x="737.0" y="1074.0" font-size="11.7" text-anchor="end" fill="#1e1e1e" textLength="150.9" lengthAdjust="spacingAndGlyphs">ve dirsek kasları geliştirilir.</text>
<text x="749.0" y="969.5" font-size="11.7" font-style="italic" font-weight="bold" fill="#1e1e1e" textLength="38.3" lengthAdjust="spacingAndGlyphs">Usage</text>
<text x="749.0" y="985.0" font-size="11.7" font-style="italic" fill="#262626" textLength="166.8" lengthAdjust="spacingAndGlyphs">User can exercise by moving</text>
<text x="749.0" y="999.6" font-size="11.7" font-style="italic" fill="#262626" textLength="120.7" lengthAdjust="spacingAndGlyphs">the ball on the panel.</text>
<text x="749.0" y="1045.0" font-size="11.7" font-style="italic" font-weight="bold" fill="#1e1e1e" textLength="61.0" lengthAdjust="spacingAndGlyphs">Functions</text>
<text x="749.0" y="1060.0" font-size="11.7" font-style="italic" fill="#262626" textLength="135.1" lengthAdjust="spacingAndGlyphs">Aim of this product is to</text>
<text x="749.0" y="1074.7" font-size="11.7" font-style="italic" fill="#262626" textLength="161.8" lengthAdjust="spacingAndGlyphs">develop elbow and shoulder</text>
<text x="749.0" y="1089.4" font-size="11.7" font-style="italic" fill="#262626" textLength="51.3" lengthAdjust="spacingAndGlyphs">muscles.</text>
<g filter="url(#bsh)"><path d="M1078.6,652.7 L1078.6,626.7 Q1078.6,620.7 1084.6,620.7 L1166.1,620.7 A16.0,16.0 0 0 1 1166.1,652.7 Z" fill="url(#badgeG)"/></g><path d="M1078.6,652.7 L1098.6,652.7 L1098.6,671.7 L1084.6,671.7 Q1078.6,671.7 1078.6,665.7 Z" fill="url(#tabG)"/><text x="1086.6" y="644.2" font-size="20.5" fill="#ffffff" textLength="79.5" lengthAdjust="spacingAndGlyphs">Mfs-306</text>
<text x="1191.0" y="631.0" font-size="15.5" font-style="italic" fill="#1e1e1e" textLength="413.6" lengthAdjust="spacingAndGlyphs">Waist and Humeral Muscles Strengthening Equipment</text>
<text x="1191.0" y="649.0" font-size="15" fill="#1e1e1e" textLength="333.5" lengthAdjust="spacingAndGlyphs">Bel ve Bacak Kaslarını Kuvvetlendirme Aleti</text>
<text x="1693.0" y="626.0" font-size="17.6" font-style="italic" fill="#222" textLength="210.5" lengthAdjust="spacingAndGlyphs">Technical Specifications /</text>
<text x="1693.0" y="646.0" font-size="17.6" fill="#1a1a1a" textLength="133.5" lengthAdjust="spacingAndGlyphs">Teknik Özellikler</text>
<use href="#icoSheet" x="1692" y="653"/>
<text x="1727.0" y="662.2" font-size="11.0" font-style="italic" fill="#3a3a3a" textLength="69.9" lengthAdjust="spacingAndGlyphs">Sheet Metal</text>
<text x="1727.0" y="676.5" font-size="11.0" fill="#1e1e1e" textLength="49.5" lengthAdjust="spacingAndGlyphs">Dkp Sac</text>
<use href="#icoPipe" x="1692" y="686"/>
<text x="1730.7" y="693.5" font-size="11.0" font-style="italic" fill="#3a3a3a" textLength="102.6" lengthAdjust="spacingAndGlyphs">Metal Pipe Profile</text>
<text x="1730.7" y="708.0" font-size="11.0" fill="#1e1e1e" textLength="96.8" lengthAdjust="spacingAndGlyphs">Metal Boru Profil</text>
<use href="#icoPowder" x="1692" y="718.3"/>
<text x="1730.7" y="726.0" font-size="11.0" font-style="italic" fill="#3a3a3a" textLength="131.7" lengthAdjust="spacingAndGlyphs">Powder Coating Finish</text>
<text x="1730.7" y="740.0" font-size="11.0" fill="#1e1e1e" textLength="104.8" lengthAdjust="spacingAndGlyphs">Elektrostatik Boya</text>
<use href="#icoUser" x="1692" y="750"/>
<text x="1730.7" y="758.2" font-size="11.0" font-style="italic" fill="#3a3a3a" textLength="100.4" lengthAdjust="spacingAndGlyphs" style="white-space:pre">User Capacity:  1</text>
<text x="1730.7" y="772.3" font-size="11.0" fill="#1e1e1e" textLength="104.8" lengthAdjust="spacingAndGlyphs">Kullanıcı Sayısı: 1</text>
<use href="#icoMuscle" x="1692" y="790.6"/>
<text x="1730.7" y="791.7" font-size="11.0" font-style="italic" fill="#3a3a3a" textLength="175.1" lengthAdjust="spacingAndGlyphs">Muscles Training: Waist, Arms</text>
<text x="1837.8" y="806.0" font-size="11.0" font-style="italic" fill="#3a3a3a" textLength="99.0" lengthAdjust="spacingAndGlyphs">and Leg Muscles</text>
<text x="1730.7" y="819.5" font-size="11.0" fill="#1e1e1e" textLength="213.9" lengthAdjust="spacingAndGlyphs">Çalıştırdığı Kaslar: Bel, Kol ve Bacak</text>
<text x="1841.9" y="833.0" font-size="11.0" fill="#1e1e1e" textLength="40.7" lengthAdjust="spacingAndGlyphs">Kasları</text>
<text x="1692.0" y="847.2" font-size="13" font-style="italic" fill="#2a2a2a" textLength="87.2" lengthAdjust="spacingAndGlyphs">Dimensions /</text>
<text x="1783.0" y="847.2" font-size="13" fill="#1e1e1e" textLength="55.3" lengthAdjust="spacingAndGlyphs">Boyutlar</text>
<use href="#icoDimW" x="1692" y="857.2"/><text x="1720.5" y="872.0" font-size="11.5" fill="#1e1e1e" textLength="57.3" lengthAdjust="spacingAndGlyphs">w:235 cm</text>
<use href="#icoDimD" x="1780" y="857.2"/><text x="1809.0" y="872.0" font-size="11.5" fill="#1e1e1e" textLength="55.1" lengthAdjust="spacingAndGlyphs">d:157 cm</text>
<use href="#icoDimW" x="1870" y="857.2"/><text x="1899.0" y="872.0" font-size="11.5" fill="#1e1e1e" textLength="55.1" lengthAdjust="spacingAndGlyphs">h:220 cm</text>
<text x="1692.0" y="901.2" font-size="13" font-style="italic" fill="#2a2a2a" textLength="122.4" lengthAdjust="spacingAndGlyphs">Seat Dimensions /</text>
<text x="1820.0" y="901.2" font-size="13" fill="#1e1e1e" textLength="109.0" lengthAdjust="spacingAndGlyphs">Oturak Boyutları</text>
<use href="#icoDimW" x="1692" y="911"/><text x="1720.0" y="927.4" font-size="11.5" fill="#1e1e1e" textLength="56.3" lengthAdjust="spacingAndGlyphs">w:110 cm</text>
<use href="#icoDimD" x="1787.4" y="911"/><text x="1813.5" y="927.4" font-size="11.5" fill="#1e1e1e" textLength="47.7" lengthAdjust="spacingAndGlyphs">d:60 cm</text>
<use href="#icoDimW" x="1878.3" y="911"/><text x="1905.0" y="927.4" font-size="11.5" fill="#1e1e1e" textLength="47.7" lengthAdjust="spacingAndGlyphs">h:45 cm</text>
<text x="1079.3" y="962.6" font-size="11.7" fill="#1e1e1e" textLength="154.2" lengthAdjust="spacingAndGlyphs">Yaşlılar için tasarlanmış bu</text>
<text x="1079.3" y="977.7" font-size="11.7" fill="#1e1e1e" textLength="115.5" lengthAdjust="spacingAndGlyphs">fitness ekipmanı, bir</text>
<text x="1079.3" y="992.8" font-size="11.7" fill="#1e1e1e" textLength="134.9" lengthAdjust="spacingAndGlyphs">oturma bankı ve iki barı</text>
<text x="1079.3" y="1007.9" font-size="11.7" fill="#1e1e1e" textLength="148.0" lengthAdjust="spacingAndGlyphs">olan bir destek kısmından</text>
<text x="1079.3" y="1023.0" font-size="11.7" fill="#1e1e1e" textLength="159.5" lengthAdjust="spacingAndGlyphs">oluşur. Oturma bankı uygun</text>
<text x="1079.3" y="1038.1" font-size="11.7" fill="#1e1e1e" textLength="117.6" lengthAdjust="spacingAndGlyphs">yüksekliği ile güvenli</text>
<text x="1079.3" y="1053.2" font-size="11.7" fill="#1e1e1e" textLength="98.9" lengthAdjust="spacingAndGlyphs">oturup ve kalkma</text>
<text x="1079.3" y="1068.3" font-size="11.7" fill="#1e1e1e" textLength="142.9" lengthAdjust="spacingAndGlyphs">hareketlerini yapmak için</text>
<text x="1079.3" y="1083.4" font-size="11.7" fill="#1e1e1e" textLength="80.8" lengthAdjust="spacingAndGlyphs">mükemmeldir.</text>
<text x="1079.3" y="1112.4" font-size="11.7" font-style="italic" fill="#262626" textLength="105.3" lengthAdjust="spacingAndGlyphs">Fitness equipment</text>
<text x="1079.3" y="1127.4" font-size="11.7" font-style="italic" fill="#262626" textLength="116.7" lengthAdjust="spacingAndGlyphs">intended for seniors,</text>
<text x="1079.3" y="1142.4" font-size="11.7" font-style="italic" fill="#262626" textLength="146.1" lengthAdjust="spacingAndGlyphs">consisting of a bench and</text>
<text x="1079.3" y="1157.4" font-size="11.7" font-style="italic" fill="#262626" textLength="136.0" lengthAdjust="spacingAndGlyphs">a support with two bars.</text>
<text x="1079.3" y="1172.4" font-size="11.7" font-style="italic" fill="#262626" textLength="116.0" lengthAdjust="spacingAndGlyphs" style="white-space:pre">The bench height  is</text>
<text x="1079.3" y="1187.4" font-size="11.7" font-style="italic" fill="#262626" textLength="128.2" lengthAdjust="spacingAndGlyphs">excellent for practising</text>
<text x="1079.3" y="1202.4" font-size="11.7" font-style="italic" fill="#262626" textLength="121.0" lengthAdjust="spacingAndGlyphs">safe sitting down and</text>
<text x="1079.3" y="1217.4" font-size="11.7" font-style="italic" fill="#262626" textLength="140.4" lengthAdjust="spacingAndGlyphs">standing up movements.</text>
<text x="1754.0" y="963.0" font-size="11.7" font-weight="bold" text-anchor="end" fill="#1e1e1e" textLength="90.4" lengthAdjust="spacingAndGlyphs">Kullanım Şekli</text>
<text x="1754.0" y="978.0" font-size="11.7" text-anchor="end" fill="#1e1e1e" textLength="158.9" lengthAdjust="spacingAndGlyphs">Kullanıcı destek barlarını iki</text>
<text x="1754.0" y="993.0" font-size="11.7" text-anchor="end" fill="#1e1e1e" textLength="161.1" lengthAdjust="spacingAndGlyphs">elle tutarak güvenli otur kalk</text>
<text x="1754.0" y="1008.0" font-size="11.7" text-anchor="end" fill="#1e1e1e" textLength="118.5" lengthAdjust="spacingAndGlyphs">hareketlerini kolayca</text>
<text x="1754.0" y="1023.0" font-size="11.7" text-anchor="end" fill="#1e1e1e" textLength="51.3" lengthAdjust="spacingAndGlyphs">yapabilir.</text>
<text x="1754.0" y="1053.6" font-size="11.7" font-weight="bold" text-anchor="end" fill="#1e1e1e" textLength="86.0" lengthAdjust="spacingAndGlyphs">Fonksiyonları</text>
<text x="1754.0" y="1068.6" font-size="11.7" font-style="italic" text-anchor="end" fill="#262626" textLength="166.9" lengthAdjust="spacingAndGlyphs">Kullanıcının bel, kol ve bacak</text>
<text x="1754.0" y="1083.6" font-size="11.7" font-style="italic" text-anchor="end" fill="#262626" textLength="141.1" lengthAdjust="spacingAndGlyphs">bölgesinin güçlenmesine</text>
<text x="1754.0" y="1098.6" font-size="11.7" font-style="italic" text-anchor="end" fill="#262626" textLength="77.6" lengthAdjust="spacingAndGlyphs">yardımcı olur.</text>
<text x="1766.0" y="964.0" font-size="11.7" font-style="italic" font-weight="bold" fill="#1e1e1e" textLength="38.3" lengthAdjust="spacingAndGlyphs">Usage</text>
<text x="1766.0" y="979.0" font-size="11.7" font-style="italic" fill="#262626" textLength="166.9" lengthAdjust="spacingAndGlyphs">User can do easily sit and up</text>
<text x="1766.0" y="994.0" font-size="11.7" font-style="italic" fill="#262626" textLength="139.4" lengthAdjust="spacingAndGlyphs">movements with holding</text>
<text x="1766.0" y="1009.0" font-size="11.7" font-style="italic" fill="#262626" textLength="179.9" lengthAdjust="spacingAndGlyphs" style="white-space:pre">supporting bar  with two hands.</text>
<text x="1766.0" y="1039.0" font-size="11.7" font-style="italic" font-weight="bold" fill="#1e1e1e" textLength="61.0" lengthAdjust="spacingAndGlyphs">Functions</text>
<text x="1766.0" y="1054.0" font-size="11.7" font-style="italic" fill="#262626" textLength="181.3" lengthAdjust="spacingAndGlyphs" style="white-space:pre">Help to  Improve waist flexibility</text>
<text x="1766.0" y="1069.0" font-size="11.7" font-style="italic" fill="#262626" textLength="119.9" lengthAdjust="spacingAndGlyphs">leg and arm muscles</text>
<path d="M458,224 Q488.5,379 489,553" fill="none" stroke="url(#poleG)" stroke-width="21"/>
<use href="#canopy"/>
<path d="M477.0,550.0 Q488.5,547.6 500.0,550.0 C506.4,552.4 511.5,558.0 511.5,564.0 C511.5,571.6 465.5,571.6 465.5,564.0 C465.5,558.0 470.6,552.4 477.0,550.0 Z" fill="url(#baseG)"/>
<rect x="387.3" y="290" width="21.6" height="293" fill="url(#postG)"/>
<path d="M387.3,293 L387.3,292 C387.3,286 392,283.4 398,283.4 C404,283.4 408.9,286 408.9,292 L408.9,293 Z" fill="#e9b523"/>
<path d="M387.3,301 L402,301 L407,306 L407,441 L403,445.6 L387.3,445.6 Z" fill="#e1ab22"/>
<path d="M389,315.0 L404,315.0 L404,320.5 L389,320.5" fill="none" stroke="#26282a" stroke-width="2.3"/>
<path d="M389,326.3 L404,326.3 L404,331.8 L389,331.8" fill="none" stroke="#26282a" stroke-width="2.3"/>
<path d="M389,337.6 L404,337.6 L404,343.1 L389,343.1" fill="none" stroke="#26282a" stroke-width="2.3"/>
<path d="M389,348.9 L404,348.9 L404,354.4 L389,354.4" fill="none" stroke="#26282a" stroke-width="2.3"/>
<path d="M389,360.2 L404,360.2 L404,365.7 L389,365.7" fill="none" stroke="#26282a" stroke-width="2.3"/>
<path d="M389,371.5 L404,371.5 L404,377.0 L389,377.0" fill="none" stroke="#26282a" stroke-width="2.3"/>
<path d="M389,382.8 L404,382.8 L404,388.3 L389,388.3" fill="none" stroke="#26282a" stroke-width="2.3"/>
<path d="M389,394.1 L404,394.1 L404,399.6 L389,399.6" fill="none" stroke="#26282a" stroke-width="2.3"/>
<path d="M389,405.4 L404,405.4 L404,410.9 L389,410.9" fill="none" stroke="#26282a" stroke-width="2.3"/>
<path d="M389,416.7 L404,416.7 L404,422.2 L389,422.2" fill="none" stroke="#26282a" stroke-width="2.3"/>
<path d="M389,428.0 L404,428.0 L404,433.5 L389,433.5" fill="none" stroke="#26282a" stroke-width="2.3"/>
<path d="M384.8,581.0 Q397.5,578.6 410.2,581.0 C417.4,583.4 423.0,589.0 423.0,595.0 C423.0,602.6 372.0,602.6 372.0,595.0 C372.0,589.0 377.6,583.4 384.8,581.0 Z" fill="url(#baseG)"/>
<path d="M600,165 L655,160 L700,170 L640,195 L585,200 Z" fill="#d4d4d6" opacity="0.35" filter="url(#blur4)"/>
<path d="M547,79 Q530,150 538.5,222 L546.6,222 Q540,150 559.5,81 Z" fill="#383b3d"/>
<path d="M571.5,64 C590,56 606,52 621,51 C640,52 655,53 667,54.5 C660,62 648,68 636,70 L584,71 C578,68 574,66 571.5,64 Z" fill="#f2cd1c"/>
<path d="M571.5,64 C590,56 606,52 621,51" fill="none" stroke="#2c2f31" stroke-width="2"/>
<path d="M667,54.5 C660,62 648,68 636,70 L584,71" fill="none" stroke="#2c2f31" stroke-width="2.5"/>
<path d="M546,79 L586,70" fill="none" stroke="#2c2f31" stroke-width="7" stroke-linecap="round"/>
<ellipse cx="545.8" cy="79.5" rx="4.5" ry="4" fill="#f3c31c"/>
<rect x="580.9" y="102" width="8.3" height="99" fill="#383b3d"/><ellipse cx="585" cy="102" rx="4.2" ry="2.5" fill="#8a6a30"/>
<path d="M580.4,198.5 Q585.2,197.4 590.1,198.5 C592.8,199.6 594.9,202.1 594.9,204.8 C594.9,208.2 575.5,208.2 575.5,204.8 C575.5,202.1 577.6,199.6 580.4,198.5 Z" fill="url(#baseG)"/>
<path d="M537.6,219.6 Q542.2,218.2 546.8,219.6 C549.4,221.0 551.4,224.4 551.4,228.0 C551.4,232.6 533.0,232.6 533.0,228.0 C533.0,224.4 535.0,221.0 537.6,219.6 Z" fill="url(#baseG)"/>
<path d="M1538,196 Q1562,330 1566,490" fill="none" stroke="url(#poleG)" stroke-width="17"/>
<use href="#canopy" transform="matrix(0.88137,-0.00512,-0.17753,1.00574,1176.518,-26.624)"/>
<path d="M1555.9,489.2 Q1566.0,487.5 1576.1,489.2 C1581.8,490.9 1586.2,495.0 1586.2,499.3 C1586.2,504.9 1545.8,504.9 1545.8,499.3 C1545.8,495.0 1550.2,490.9 1555.9,489.2 Z" fill="url(#baseG)"/>
<path d="M1384,306 L1569,306.5" stroke="#2c2f31" stroke-width="5" stroke-linecap="round"/>
<ellipse cx="1482" cy="306.0" rx="5.5" ry="6" fill="#dcae2a"/>
<rect x="1536" y="301.0" width="5" height="9" fill="#d4b020"/>
<path d="M1384,338.6 L1569,339.1" stroke="#2c2f31" stroke-width="5" stroke-linecap="round"/>
<ellipse cx="1482" cy="338.6" rx="5.5" ry="6" fill="#dcae2a"/>
<rect x="1536" y="333.6" width="5" height="9" fill="#d4b020"/>
<rect x="1501.0" y="287.9" width="14.0" height="228.1" fill="url(#postG)"/><path d="M1501.0,288.9 L1501.0,286.7 Q1501.0,282.0 1508.0,282.0 Q1515.0,282.0 1515.0,286.7 L1515.0,288.9 Z" fill="#f3c31c"/>
<path d="M1494.1,503.0 Q1500.5,501.4 1506.9,503.0 C1510.4,504.6 1513.2,508.2 1513.2,512.1 C1513.2,517.0 1487.8,517.0 1487.8,512.1 C1487.8,508.2 1490.6,504.6 1494.1,503.0 Z" fill="url(#baseG)"/>
<rect x="1364.6" y="289.4" width="19.1" height="180.6" fill="url(#postG)"/><path d="M1364.6,290.4 L1364.6,287.8 Q1364.6,281.4 1374.2,281.4 Q1383.7,281.4 1383.7,287.8 L1383.7,290.4 Z" fill="#f3c31c"/>
<rect x="1511.6" y="285.6" width="22.0" height="260.4" fill="url(#postG)"/><path d="M1511.6,286.6 L1511.6,283.8 Q1511.6,276.4 1522.6,276.4 Q1533.6,276.4 1533.6,283.8 L1533.6,286.6 Z" fill="#f3c31c"/>
<path d="M1509.5,536.7 Q1522.0,534.4 1534.5,536.7 C1541.5,539.0 1547.0,544.3 1547.0,550.0 C1547.0,557.2 1497.0,557.2 1497.0,550.0 C1497.0,544.3 1502.5,539.0 1509.5,536.7 Z" fill="url(#baseG)"/>
<ellipse cx="1365" cy="512" rx="9" ry="7" fill="#e9b520"/>
<use href="#bench"/>
<path d="M1660,112 Q1674,160 1668.5,229" fill="none" stroke="#383b3d" stroke-width="7"/>
<path d="M1571.3,90 C1585,86 1600,86 1609,88 C1625,90 1640,93 1647.6,98 C1650,100 1648,102 1640,101 L1593,100.6 C1584,97 1576,94 1571.3,90 Z" fill="#f1cb1d"/>
<path d="M1571.3,90 C1580,96 1590,100 1600,101 L1640,101.5 L1666,108.6" fill="none" stroke="#2c2f31" stroke-width="3.5" stroke-linecap="round"/>
<path d="M1571.3,90 C1585,86 1600,86 1609,88 C1625,90 1640,93 1647.6,98" fill="none" stroke="#2c2f31" stroke-width="2"/>
<ellipse cx="1666" cy="108.6" rx="4.5" ry="3.5" fill="#f3c31c"/>
<path d="M1573.3,173 L1606.5,166.3 L1621,173 L1588,181 Z" fill="#e8c020"/>
<path d="M1573.3,173 L1588,181 L1590,204 L1572,202 Z M1588,181 L1621,173 L1624,197 L1605,192 L1592,200 Z" fill="#383b3d"/>
<path d="M1599,148 C1610,156 1650,152 1660,144 C1664,138 1650,136 1644,137 M1599,160 C1610,166 1650,164 1660,158 C1664,150 1650,148 1644,150" fill="none" stroke="#2c2f31" stroke-width="1.8"/>
<rect x="1639.4" y="130.5" width="5" height="82" fill="#383b3d"/>
<rect x="1593" y="140" width="7" height="71.5" fill="#383b3d"/><ellipse cx="1596.5" cy="140" rx="3.6" ry="2" fill="#f3c31c"/>
<rect x="1639.7" y="144" width="6" height="70" fill="#383b3d"/><ellipse cx="1642.7" cy="144" rx="3.2" ry="2" fill="#c9a23a"/>
<path d="M1594.3,208.5 Q1597.7,207.7 1601.1,208.5 C1603.0,209.3 1604.5,211.3 1604.5,213.4 C1604.5,216.1 1591.0,216.1 1591.0,213.4 C1591.0,211.3 1592.4,209.3 1594.3,208.5 Z" fill="url(#baseG)"/>
<path d="M1638.6,212.0 Q1642.3,211.0 1646.0,212.0 C1648.0,213.0 1649.6,215.2 1649.6,217.6 C1649.6,220.6 1635.0,220.6 1635.0,217.6 C1635.0,215.2 1636.6,213.0 1638.6,212.0 Z" fill="url(#baseG)"/>
<path d="M1664.3,226.4 Q1668.7,225.3 1673.1,226.4 C1675.5,227.5 1677.5,230.0 1677.5,232.7 C1677.5,236.1 1660.0,236.1 1660.0,232.7 C1660.0,230.0 1661.9,227.5 1664.3,226.4 Z" fill="url(#baseG)"/>
<path d="M478,825 Q490,870 493,932" fill="none" stroke="url(#poleG)" stroke-width="20"/>
<use href="#canopy" transform="matrix(1.04200,-0.00419,-0.24654,1.24901,56.719,544.283)"/>
<path d="M324.9,1174.4 Q337.7,1172.0 350.4,1174.4 C357.6,1176.8 363.2,1182.4 363.2,1188.4 C363.2,1196.0 312.2,1196.0 312.2,1188.4 C312.2,1182.4 317.8,1176.8 324.9,1174.4 Z" fill="url(#baseG)"/>
<rect x="327.8" y="930.4" width="20.0" height="249.6" fill="url(#postG)"/><path d="M327.8,931.4 L327.8,928.7 Q327.8,922.0 337.8,922.0 Q347.8,922.0 347.8,928.7 L347.8,931.4 Z" fill="#f3c31c"/>
<path d="M345.6,930 L507.8,927.8 L507.8,1176 L347.8,1157 Z" fill="url(#panelG)"/><path d="M455,928.5 L507.8,927.8 L507.8,1176 L455,1168 Z" fill="#f2c440" opacity="0.45"/><circle cx="373.6" cy="958" r="3" fill="#1f2122"/>
<path d="M373.6,958 L472,962.5 C478,963 478,972 470,973 L402,985 C394,987 394,995 402,996 L486,1005 C492,1006 492,1014 484,1016 L370,1021 C362,1022 362,1030 370,1031 L469,1049 C476,1051 476,1059 468,1060 L357,1062 C349,1063 349,1071 357,1073 L445,1092 C452,1094 452,1102 444,1102 L381,1104 C373,1105 373,1114 381,1116 L474.4,1143.3" fill="none" stroke="#1f2122" stroke-width="4.2" stroke-linecap="round" stroke-linejoin="round"/>
<rect x="507.8" y="926.9" width="24.4" height="280.1" fill="url(#postG)"/><path d="M507.8,927.9 L507.8,924.9 Q507.8,916.7 520.0,916.7 Q532.2,916.7 532.2,924.9 L532.2,927.9 Z" fill="#f3c31c"/>
<path d="M506.1,1205.8 Q520.0,1203.2 533.9,1205.8 C541.7,1208.4 547.8,1214.6 547.8,1221.2 C547.8,1229.6 492.2,1229.6 492.2,1221.2 C492.2,1214.6 498.3,1208.4 506.1,1205.8 Z" fill="url(#baseG)"/>
<path d="M1501,819 Q1523,950 1526.5,1127" fill="none" stroke="url(#poleG)" stroke-width="19"/>
<use href="#canopy" transform="matrix(0.94982,-0.00077,-0.31224,1.12813,1138.464,567.420)"/>
<path d="M1515.8,1123.3 Q1526.5,1121.4 1537.2,1123.3 C1543.3,1125.2 1548.0,1129.7 1548.0,1134.5 C1548.0,1140.6 1505.0,1140.6 1505.0,1134.5 C1505.0,1129.7 1509.7,1125.2 1515.8,1123.3 Z" fill="url(#baseG)"/>
<path d="M1364.2,1132.0 Q1375.0,1130.3 1385.8,1132.0 C1391.8,1133.7 1396.5,1137.6 1396.5,1141.8 C1396.5,1147.1 1353.5,1147.1 1353.5,1141.8 C1353.5,1137.6 1358.2,1133.7 1364.2,1132.0 Z" fill="url(#baseG)"/>
<rect x="1364.7" y="916.0" width="18.0" height="184.0" fill="url(#postG)"/><path d="M1364.7,917.0 L1364.7,914.4 Q1364.7,908.4 1373.7,908.4 Q1382.7,908.4 1382.7,914.4 L1382.7,917.0 Z" fill="#f3c31c"/>
<rect x="1554.4" y="913.5" width="21.2" height="256.5" fill="url(#postG)"/><path d="M1554.4,914.5 L1554.4,911.7 Q1554.4,904.6 1565.0,904.6 Q1575.6,904.6 1575.6,911.7 L1575.6,914.5 Z" fill="#f3c31c"/>
<path d="M1550.2,1161.3 Q1563.0,1158.9 1575.8,1161.3 C1582.9,1163.7 1588.5,1169.3 1588.5,1175.3 C1588.5,1182.9 1537.5,1182.9 1537.5,1175.3 C1537.5,1169.3 1543.1,1163.7 1550.2,1161.3 Z" fill="url(#baseG)"/>
<path d="M1383,932 L1554,933.5" stroke="#e8b92a" stroke-width="5.5"/>
<path d="M1383,930 L1554,931.5" stroke="#f5d060" stroke-width="1.2"/>
<rect x="1543" y="928.5" width="11" height="8" fill="#2c2f31"/>
<path d="M1383,965.8 L1554,967.3" stroke="#e8b92a" stroke-width="5.5"/>
<path d="M1383,963.8 L1554,965.3" stroke="#f5d060" stroke-width="1.2"/>
<rect x="1543" y="962.3" width="11" height="8" fill="#2c2f31"/>
<use href="#bench" transform="matrix(1.04010,0.00226,-0.01644,0.97595,-18.679,638.157)"/>
<path d="M1576,670 Q1562,720 1564.5,809" fill="none" stroke="#383b3d" stroke-width="8.5"/>
<path d="M1576,705 Q1571,740 1573.5,778" fill="none" stroke="#383b3d" stroke-width="6"/>
<path d="M1590.9,654.5 C1600,648 1620,642 1638,640 C1655,641 1672,642 1685,643.8 C1678,650 1665,655 1652,656 L1603,658 C1597,658 1593,657 1590.9,654.5 Z" fill="#f1cb1d"/>
<path d="M1590.9,654.5 C1600,648 1620,642 1638,640" fill="none" stroke="#2c2f31" stroke-width="2"/>
<path d="M1685,643.8 C1678,650 1665,655 1652,656 L1603,658" fill="none" stroke="#2c2f31" stroke-width="3"/>
<path d="M1568,666.7 L1604,657.5" stroke="#2c2f31" stroke-width="7" stroke-linecap="round"/>
<ellipse cx="1567.2" cy="666.7" rx="4.5" ry="4" fill="#f3c31c"/><ellipse cx="1576" cy="666" rx="2.5" ry="3" fill="#d8b030"/>
<path d="M1574,705.7 L1632,720.2 M1574,718.7 L1632,734" stroke="#e8b92a" stroke-width="2.2"/>
<path d="M1603,749.3 L1623,740 L1665.8,752.3 L1644.4,760.7 Z" fill="#d9b52a"/>
<path d="M1603,749.3 L1644.4,760.7 L1645,766 L1625,762 L1625,774 L1600,773.7 Z" fill="#383b3d"/>
<path d="M1644.4,760.7 L1665.8,752.3 L1670,786 L1648,790.6 Z" fill="#383b3d"/>
<rect x="1632.2" y="716" width="8.4" height="88" fill="#383b3d"/><ellipse cx="1636.4" cy="716" rx="4.2" ry="3" fill="#f3c31c"/>
<path d="M1629.6,801.2 Q1634.0,800.0 1638.4,801.2 C1640.9,802.4 1642.8,805.2 1642.8,808.2 C1642.8,812.0 1625.2,812.0 1625.2,808.2 C1625.2,805.2 1627.1,802.4 1629.6,801.2 Z" fill="url(#baseG)"/>
<path d="M1570.4,776.0 Q1573.6,775.2 1576.8,776.0 C1578.6,776.8 1580.0,778.8 1580.0,780.9 C1580.0,783.6 1567.2,783.6 1567.2,780.9 C1567.2,778.8 1568.6,776.8 1570.4,776.0 Z" fill="url(#baseG)"/>
<path d="M1558.8,805.8 Q1563.6,804.4 1568.4,805.8 C1571.1,807.2 1573.2,810.4 1573.2,813.8 C1573.2,818.2 1553.9,818.2 1553.9,813.8 C1553.9,810.4 1556.1,807.2 1558.8,805.8 Z" fill="url(#baseG)"/>
<use href="#lineCan"/>
<rect x="146.3" y="242.9" width="5.3" height="88.1" fill="#fff" stroke="#161616" stroke-width="1"/>
<path d="M144,329 L154,329 L155,333 L143,333 Z" fill="#444"/>
<path d="M145.8,261.6 L127.7,267.4 L113.7,253.7 L113.7,285.5 L116.0,304.8 L113.7,330.5" fill="none" stroke="#111" stroke-width="4.8" stroke-linecap="round" stroke-linejoin="round"/><circle cx="113.7" cy="248.0" r="5.3" fill="#111"/><circle cx="127.7" cy="267.4" r="1.2" fill="#fff"/><circle cx="113.7" cy="253.7" r="1.2" fill="#fff"/><circle cx="113.7" cy="285.5" r="1.2" fill="#fff"/><circle cx="116.0" cy="304.8" r="1.2" fill="#fff"/>
<use href="#lineCan2"/>
<rect x="1188.0" y="240.0" width="5.5" height="74.0" fill="#fff" stroke="#161616" stroke-width="1"/>
<rect x="1162.0" y="258.0" width="5.0" height="50.0" fill="#fff" stroke="#161616" stroke-width="1"/>
<rect x="1149.8" y="238.0" width="7.0" height="80.0" fill="#fff" stroke="#161616" stroke-width="1"/>
<path d="M1161,308 L1168,308 L1169,312 L1160,312 Z M1186,313 L1195,313 L1196,317 L1185,317 Z M1148,318 L1158,318 L1160,322 L1146,322 Z" fill="#444"/>
<path d="M1155,233 L1158,289" fill="none" stroke="#111" stroke-width="3.6"/><path d="M1155.5,236 L1165,247" fill="none" stroke="#111" stroke-width="4.5" stroke-linecap="round"/>
<path d="M1156,244 L1191,243.5" stroke="#222" stroke-width="1.1"/><path d="M1164,250 L1190,244.5 L1191.5,249 L1165.5,255 Z" fill="#111"/><circle cx="1154.5" cy="227.6" r="5.6" fill="#111"/><circle cx="1167" cy="252" r="1.3" fill="#fff"/>
<path d="M1094,294 Q1096,288 1110,287 L1135,287 L1139,296 L1139,312 L1124,312 L1124,319 L1092,319 Z" fill="#fff" stroke="#222" stroke-width="1"/>
<path d="M1097,298 L1097,316 M1101,298 L1101,316 M1105,298 L1105,316 M1109,298 L1109,316 M1113,298 L1113,316 M1117,298 L1117,316 M1128,298 L1128,310 M1132,298 L1132,310" stroke="#555" stroke-width="0.9"/>
<use href="#lineCan2" transform="matrix(0.90316,0.05697,0.00511,0.86675,-929.667,579.980)"/>
<rect x="147.6" y="853.3" width="5.2" height="77.7" fill="#fff" stroke="#161616" stroke-width="1"/>
<path d="M143,870 L143,925 M147,880 L143,880 M147,895 L143,895 M147,910 L143,910" stroke="#333" stroke-width="1"/>
<path d="M144.0,869.6 L125.6,869.6 L117.8,852.0 L117.8,883.2 L123.0,901.0 L120.4,921.0" fill="none" stroke="#111" stroke-width="4.6" stroke-linecap="round" stroke-linejoin="round"/><circle cx="117.8" cy="846.5" r="5" fill="#111"/><circle cx="125.6" cy="869.6" r="1.2" fill="#fff"/><circle cx="117.8" cy="852.0" r="1.2" fill="#fff"/><circle cx="117.8" cy="883.2" r="1.2" fill="#fff"/><circle cx="123.0" cy="901.0" r="1.2" fill="#fff"/>
<use href="#lineCan2" transform="matrix(0.74218,0.02800,0.02335,0.73305,260.811,525.792)"/>
<rect x="1148.5" y="730.9" width="5.5" height="64.8" fill="#fff" stroke="#161616" stroke-width="1"/>
<path d="M1106,773.0 L1132,773.0 L1132,795.0 L1106,795.0 Z" fill="#fff" stroke="#222" stroke-width="1"/>
<path d="M1109.0,776.0 L1109.0,793.0" stroke="#555" stroke-width="0.8"/><path d="M1112.5,776.0 L1112.5,793.0" stroke="#555" stroke-width="0.8"/><path d="M1116.0,776.0 L1116.0,793.0" stroke="#555" stroke-width="0.8"/><path d="M1119.5,776.0 L1119.5,793.0" stroke="#555" stroke-width="0.8"/><path d="M1123.0,776.0 L1123.0,793.0" stroke="#555" stroke-width="0.8"/><path d="M1126.5,776.0 L1126.5,793.0" stroke="#555" stroke-width="0.8"/><path d="M1130.0,776.0 L1130.0,793.0" stroke="#555" stroke-width="0.8"/>
<path d="M1148.0,737.7 L1141.4,751.4 L1127.7,742.0 L1128.4,767.9 L1143.4,771.5 L1137.4,790.6" fill="none" stroke="#111" stroke-width="4" stroke-linecap="round" stroke-linejoin="round"/><circle cx="1127.7" cy="737.0" r="4.3" fill="#111"/><circle cx="1141.4" cy="751.4" r="1.2" fill="#fff"/><circle cx="1127.7" cy="742.0" r="1.2" fill="#fff"/><circle cx="1128.4" cy="767.9" r="1.2" fill="#fff"/><circle cx="1143.4" cy="771.5" r="1.2" fill="#fff"/>
<use href="#lineCan2" transform="matrix(0.74218,0.02432,0.02335,0.76819,260.811,649.816)"/>
<rect x="1149.5" y="860.2" width="5.5" height="62.3" fill="#fff" stroke="#161616" stroke-width="1"/>
<path d="M1106,899.8 L1132,899.8 L1132,921.8 L1106,921.8 Z" fill="#fff" stroke="#222" stroke-width="1"/>
<path d="M1109.0,902.8 L1109.0,919.8" stroke="#555" stroke-width="0.8"/><path d="M1112.5,902.8 L1112.5,919.8" stroke="#555" stroke-width="0.8"/><path d="M1116.0,902.8 L1116.0,919.8" stroke="#555" stroke-width="0.8"/><path d="M1119.5,902.8 L1119.5,919.8" stroke="#555" stroke-width="0.8"/><path d="M1123.0,902.8 L1123.0,919.8" stroke="#555" stroke-width="0.8"/><path d="M1126.5,902.8 L1126.5,919.8" stroke="#555" stroke-width="0.8"/><path d="M1130.0,902.8 L1130.0,919.8" stroke="#555" stroke-width="0.8"/>
<path d="M1149.5,867.0 L1139.4,880.2 L1124.3,873.0 L1123.3,901.3 L1139.4,901.3 L1143.4,920.4" fill="none" stroke="#111" stroke-width="4" stroke-linecap="round" stroke-linejoin="round"/><circle cx="1123.3" cy="868.5" r="4.3" fill="#111"/><circle cx="1139.4" cy="880.2" r="1.2" fill="#fff"/><circle cx="1124.3" cy="873.0" r="1.2" fill="#fff"/><circle cx="1123.3" cy="901.3" r="1.2" fill="#fff"/><circle cx="1139.4" cy="901.3" r="1.2" fill="#fff"/>
</svg>
</body></html>
